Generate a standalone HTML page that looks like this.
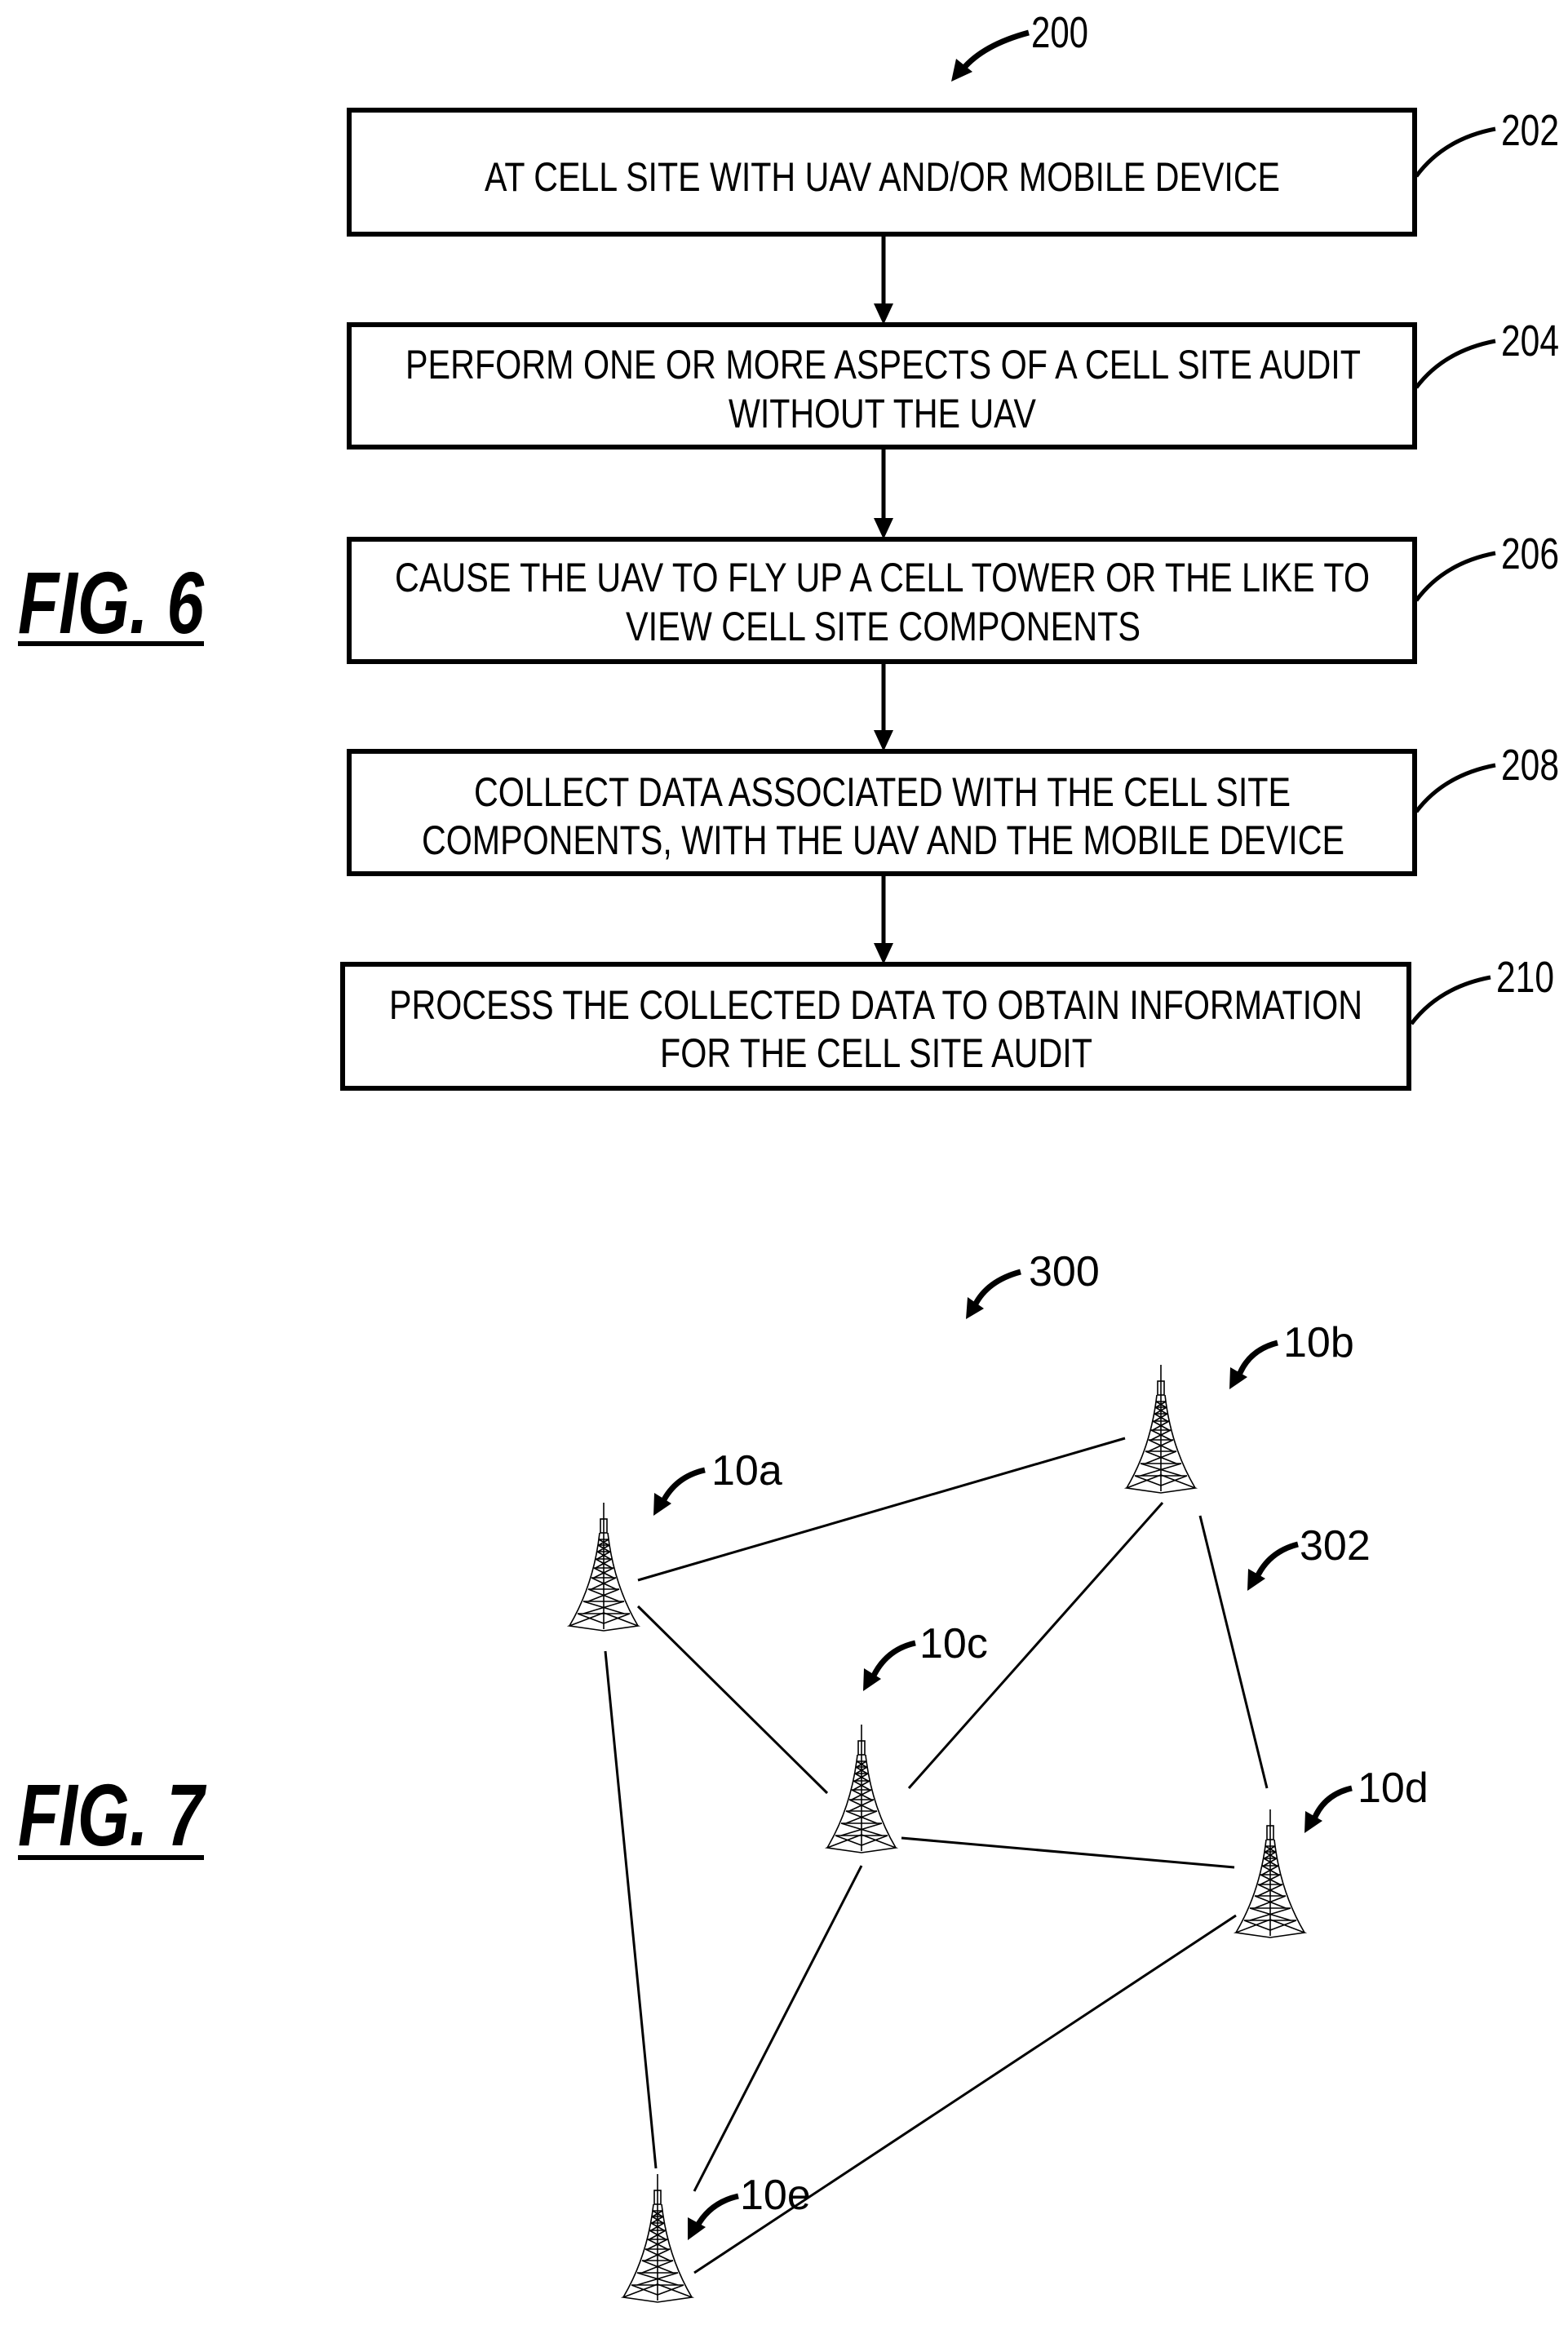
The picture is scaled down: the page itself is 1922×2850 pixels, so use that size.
<!DOCTYPE html>
<html><head><meta charset="utf-8"><style>
html,body{margin:0;padding:0;background:#fff;}
svg{display:block;}
text{font-family:"Liberation Sans",sans-serif;fill:#000;}
</style></head><body>
<svg width="1922" height="2850" viewBox="0 0 1922 2850" xmlns="http://www.w3.org/2000/svg">
<defs>
<g id="tower" fill="none" stroke="#000" stroke-width="1.6">
  <line x1="0" y1="0" x2="0" y2="155"/>
  <rect x="-4" y="20" width="8" height="17"/>
  <path d="M-5,37 Q-12,100 -42,151 M5,37 Q12,100 42,151"/>
  <path d="M-42,151 L0,135 L42,151 L0,157 Z"/>
  <path d="M-6,45 L6,52 M6,45 L-6,52 M-7,52 L7,60 M7,52 L-7,60 M-8,60 L8,69 M8,60 L-8,69 M-10,69 L10,80 M10,69 L-10,80 M-12,80 L12,92 M12,80 L-12,92 M-15,92 L15,106 M15,92 L-15,106 M-19,106 L19,121 M19,106 L-19,121 M-25,121 L25,136 M25,121 L-25,136 M-32,136 L0,148 M32,136 L0,148"/>
  <path d="M-6,45 H6 M-7,52 H7 M-8,60 H8 M-10,69 H10 M-12,80 H12 M-15,92 H15 M-19,106 H19 M-25,121 H25 M-32,136 H32"/>
</g>
</defs>

<g fill="none" stroke="#000" stroke-width="6">
  <rect x="428" y="135" width="1306" height="152"/>
  <rect x="428" y="398" width="1306" height="150"/>
  <rect x="428" y="661" width="1306" height="150"/>
  <rect x="428" y="921" width="1306" height="150"/>
  <rect x="420" y="1182" width="1307" height="152"/>
</g>
<g font-size="50">
  <text x="594" y="234" textLength="975" lengthAdjust="spacingAndGlyphs">AT CELL SITE WITH UAV AND/OR MOBILE DEVICE</text>
  <text x="497" y="464" textLength="1171" lengthAdjust="spacingAndGlyphs">PERFORM ONE OR MORE ASPECTS OF A CELL SITE AUDIT</text>
  <text x="893" y="524" textLength="377" lengthAdjust="spacingAndGlyphs">WITHOUT THE UAV</text>
  <text x="484" y="725" textLength="1195" lengthAdjust="spacingAndGlyphs">CAUSE THE UAV TO FLY UP A CELL TOWER OR THE LIKE TO</text>
  <text x="767" y="785" textLength="631" lengthAdjust="spacingAndGlyphs">VIEW CELL SITE COMPONENTS</text>
  <text x="581" y="988" textLength="1001" lengthAdjust="spacingAndGlyphs">COLLECT DATA ASSOCIATED WITH THE CELL SITE</text>
  <text x="517" y="1047" textLength="1131" lengthAdjust="spacingAndGlyphs">COMPONENTS, WITH THE UAV AND THE MOBILE DEVICE</text>
  <text x="477" y="1249" textLength="1193" lengthAdjust="spacingAndGlyphs">PROCESS THE COLLECTED DATA TO OBTAIN INFORMATION</text>
  <text x="809" y="1308" textLength="530" lengthAdjust="spacingAndGlyphs">FOR THE CELL SITE AUDIT</text>
</g>
<g stroke="#000" stroke-width="5">
  <line x1="1083" y1="287" x2="1083" y2="375"/>
  <line x1="1083" y1="548" x2="1083" y2="638"/>
  <line x1="1083" y1="811" x2="1083" y2="898"/>
  <line x1="1083" y1="1071" x2="1083" y2="1159"/>
</g>
<g fill="#000">
  <polygon points="1071,372 1095,372 1083,398"/>
  <polygon points="1071,635 1095,635 1083,661"/>
  <polygon points="1071,895 1095,895 1083,921"/>
  <polygon points="1071,1156 1095,1156 1083,1182"/>
</g>
<g font-size="54">
  <text x="1264" y="58" textLength="70" lengthAdjust="spacingAndGlyphs">200</text>
  <text x="1840" y="178" textLength="71" lengthAdjust="spacingAndGlyphs">202</text>
  <text x="1840" y="436" textLength="71" lengthAdjust="spacingAndGlyphs">204</text>
  <text x="1840" y="697" textLength="71" lengthAdjust="spacingAndGlyphs">206</text>
  <text x="1840" y="956" textLength="71" lengthAdjust="spacingAndGlyphs">208</text>
  <text x="1834" y="1216" textLength="71" lengthAdjust="spacingAndGlyphs">210</text>
</g>
<g fill="none" stroke="#000" stroke-width="5">
  <path d="M1736,216 Q1770,170 1833,158"/>
  <path d="M1736,475 Q1770,430 1833,418"/>
  <path d="M1736,736 Q1770,690 1833,678"/>
  <path d="M1736,995 Q1770,950 1833,938"/>
  <path d="M1730,1255 Q1764,1210 1827,1198"/>
</g>
<g fill="none" stroke="#000" stroke-width="7">
  <path d="M1261,40 Q1205,55 1180,85"/>
  <path d="M1251,1559 Q1210,1570 1195,1600"/>
  <path d="M1566,1646 Q1530,1655 1518,1688"/>
  <path d="M1591,1893 Q1555,1902 1540,1935"/>
  <path d="M864,1802 Q828,1810 812,1842"/>
  <path d="M1122,2014 Q1086,2022 1070,2056"/>
  <path d="M1657,2192 Q1622,2200 1610,2232"/>
  <path d="M905,2692 Q870,2700 854,2730"/>
</g>
<g fill="#000">
  <polygon points="1166,100 1172,72 1192,88"/>
  <polygon points="1184,1617 1186,1590 1206,1604"/>
  <polygon points="1507,1703 1508,1676 1529,1688"/>
  <polygon points="1529,1950 1530,1923 1551,1935"/>
  <polygon points="801,1858 802,1830 823,1843"/>
  <polygon points="1058,2073 1059,2045 1080,2058"/>
  <polygon points="1599,2247 1600,2220 1621,2232"/>
  <polygon points="843,2746 843,2718 865,2730"/>
</g>
<g font-size="108" font-weight="bold" font-style="italic">
  <text x="22" y="776" textLength="228" lengthAdjust="spacingAndGlyphs">FIG. 6</text>
  <text x="22" y="2262" textLength="228" lengthAdjust="spacingAndGlyphs">FIG. 7</text>
</g>
<rect x="22" y="786" width="228" height="6" fill="#000"/>
<rect x="22" y="2274" width="228" height="6" fill="#000"/>
<g stroke="#000" stroke-width="3">
  <line x1="782" y1="1937" x2="1379" y2="1763"/>
  <line x1="782" y1="1969" x2="1014" y2="2198"/>
  <line x1="742" y1="2024" x2="804" y2="2658"/>
  <line x1="1425" y1="1842" x2="1114" y2="2192"/>
  <line x1="1471" y1="1858" x2="1553" y2="2192"/>
  <line x1="1105" y1="2253" x2="1513" y2="2289"/>
  <line x1="1056" y1="2287" x2="851" y2="2686"/>
  <line x1="1515" y1="2348" x2="851" y2="2786"/>
</g>
<use href="#tower" x="740" y="1842"/>
<use href="#tower" x="1423" y="1673"/>
<use href="#tower" x="1056" y="2114"/>
<use href="#tower" x="1557" y="2218"/>
<use href="#tower" x="806" y="2665"/>
<g font-size="52">
  <text x="1261" y="1576">300</text>
  <text x="1573" y="1663">10b</text>
  <text x="1593" y="1912">302</text>
  <text x="872" y="1820">10a</text>
  <text x="1127" y="2032">10c</text>
  <text x="1664" y="2209">10d</text>
  <text x="907" y="2708">10e</text>
</g>
</svg>
</body></html>
